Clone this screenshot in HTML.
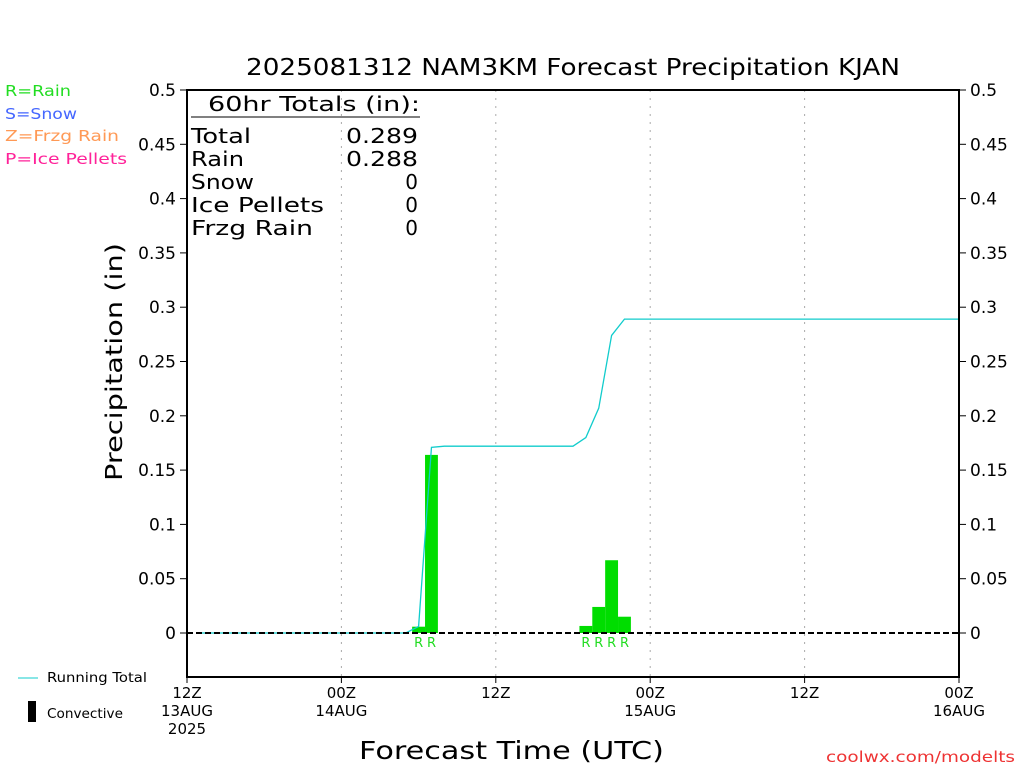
<!DOCTYPE html>
<html><head><meta charset="utf-8"><style>
body{margin:0;background:#fff;width:1024px;height:768px;overflow:hidden}
svg text{font-family:"DejaVu Sans","Liberation Sans",sans-serif}
</style></head><body>
<svg id="c" width="1024" height="768">
<text x="246" y="75" font-size="23" fill="#000" textLength="654" lengthAdjust="spacingAndGlyphs">2025081312 NAM3KM Forecast Precipitation KJAN</text>
<g font-size="15">
<text x="5" y="96" fill="#22dd22" textLength="66" lengthAdjust="spacingAndGlyphs">R=Rain</text>
<text x="5" y="119" fill="#4466ff" textLength="72" lengthAdjust="spacingAndGlyphs">S=Snow</text>
<text x="5" y="141" fill="#ff9955" textLength="114" lengthAdjust="spacingAndGlyphs">Z=Frzg Rain</text>
<text x="5" y="164" fill="#ff2299" textLength="122" lengthAdjust="spacingAndGlyphs">P=Ice Pellets</text>
</g>
<g id="grid"></g>
<g id="bars"></g>
<polyline id="line" fill="none" stroke="#11cccc" stroke-width="1.3"/>
<line x1="187" y1="633" x2="959" y2="633" stroke="#000" stroke-width="2" stroke-dasharray="6,3"/>
<rect x="187" y="90" width="772" height="587" fill="none" stroke="#000" stroke-width="2"/>
<g id="axes"></g>
<g font-size="20" fill="#000">
<text x="208" y="111" textLength="212" lengthAdjust="spacingAndGlyphs">60hr Totals (in):</text>
<line x1="191" y1="117" x2="420" y2="117" stroke="#000"/>
<text x="191" y="143" textLength="60" lengthAdjust="spacingAndGlyphs">Total</text><text x="346" y="143" textLength="72" lengthAdjust="spacingAndGlyphs">0.289</text>
<text x="191" y="166" textLength="53" lengthAdjust="spacingAndGlyphs">Rain</text><text x="346" y="166" textLength="72" lengthAdjust="spacingAndGlyphs">0.288</text>
<text x="191" y="189" textLength="63" lengthAdjust="spacingAndGlyphs">Snow</text><text x="418" y="189" text-anchor="end">0</text>
<text x="191" y="212" textLength="133" lengthAdjust="spacingAndGlyphs">Ice Pellets</text><text x="418" y="212" text-anchor="end">0</text>
<text x="191" y="235" textLength="122" lengthAdjust="spacingAndGlyphs">Frzg Rain</text><text x="418" y="235" text-anchor="end">0</text>
</g>
<text transform="translate(122,481) rotate(-90)" font-size="23" textLength="238" lengthAdjust="spacingAndGlyphs">Precipitation (in)</text>
<text x="359" y="759" font-size="25" textLength="305" lengthAdjust="spacingAndGlyphs">Forecast Time (UTC)</text>
<g font-size="13">
<line x1="18" y1="678" x2="38" y2="678" stroke="#11cccc"/>
<text x="47" y="682" textLength="100" lengthAdjust="spacingAndGlyphs">Running Total</text>
<rect x="28" y="701" width="8" height="21" fill="#000"/>
<text x="47" y="718" textLength="76" lengthAdjust="spacingAndGlyphs">Convective</text>
</g>
<text x="826" y="762" font-size="15" fill="#ee3333" textLength="189" lengthAdjust="spacingAndGlyphs">coolwx.com/modelts</text>
</svg>
<script>
const yTicks=[0,0.05,0.1,0.15,0.2,0.25,0.3,0.35,0.4,0.45,0.5];
const xTickHours=[0,12,24,36,48,60];
const xTickLabels=[["12Z","13AUG","2025"],["00Z","14AUG"],["12Z"],["00Z","15AUG"],["12Z"],["00Z","16AUG"]];
const barHours=[18,19,31,32,33,34];
const barValues=[0.0058,0.164,0.0065,0.024,0.067,0.015];
const barTypes=["R","R","R","R","R","R"];
const lineHours=[1,17,18,19,20,30,31,32,33,34,60];
const lineValues=[0,0,0.006,0.171,0.172,0.172,0.18,0.207,0.274,0.289,0.289];
const X=h=>187+h*(772/60), Y=v=>633-v*1086;
const NS="http://www.w3.org/2000/svg";
function mk(tag,attrs,parent,txt){const e=document.createElementNS(NS,tag);for(const k in attrs)e.setAttribute(k,attrs[k]);if(txt!=null)e.textContent=txt;parent.appendChild(e);return e;}
const grid=document.getElementById('grid'),axes=document.getElementById('axes'),bars=document.getElementById('bars');
xTickHours.forEach((h,i)=>{
 if(h>0&&h<60){const g=mk('line',{x1:X(h),x2:X(h),y1:90,y2:677,stroke:'#aaa','stroke-dasharray':'2,6'},grid);
 
 }
 xTickLabels[i].forEach((s,j)=>{const t=mk('text',{x:X(h),y:698+j*18,'text-anchor':'middle','font-size':15},axes,s);
 
 });
 mk('line',{x1:X(h),x2:X(h),y1:677,y2:683,stroke:'#000'},axes);
});
yTicks.forEach(v=>{
 const l=mk('text',{x:176,y:Y(v)+6,'text-anchor':'end','font-size':17},axes,String(v));
 
 
 const r=mk('text',{x:970,y:Y(v)+6,'font-size':17},axes,String(v));
 
 
 mk('line',{x1:180,x2:187,y1:Y(v),y2:Y(v),stroke:'#000'},axes);
 mk('line',{x1:959,x2:966,y1:Y(v),y2:Y(v),stroke:'#000'},axes);
});
barHours.forEach((h,i)=>{
 const b=mk('rect',{x:X(h-0.5),y:Y(barValues[i]),width:X(h+0.5)-X(h-0.5),height:Y(0)-Y(barValues[i]),fill:'#00dd00'},bars);
 
 
 const t=mk('text',{x:X(h),y:647,'text-anchor':'middle','font-size':13,fill:'#22dd22'},bars,barTypes[i]);
 
 
});
document.getElementById('line').setAttribute('points',lineHours.map((h,i)=>X(h)+','+Y(lineValues[i])).join(' '));
</script>
</body></html>
